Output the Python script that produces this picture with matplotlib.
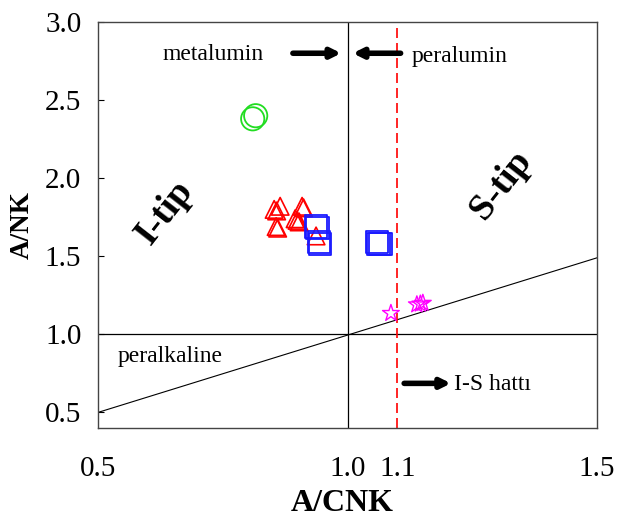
import numpy as np
import matplotlib.pyplot as plt

plt.rcParams['font.family'] = ['Liberation Serif', 'DejaVu Serif']

# A/CNK - A/NK values per group
circ_x = [0.810, 0.816]
circ_y = [2.38, 2.40]

tri_x = [0.853, 0.858, 0.865, 0.909, 0.912, 0.857, 0.860, 0.895, 0.899, 0.903, 0.937]
tri_y = [1.80, 1.79, 1.82, 1.82, 1.81, 1.69, 1.68, 1.74, 1.73, 1.72, 1.63]

sq_x = [0.937, 0.940, 0.943, 0.945, 1.059, 1.062, 1.066]
sq_y = [1.69, 1.68, 1.59, 1.58, 1.59, 1.58, 1.58]

star_x = [1.087, 1.139, 1.146, 1.151]
star_y = [1.135, 1.19, 1.195, 1.20]

# peralkaline boundary
line_x = [0.5, 1.5]
line_y = [0.5, 1.49]

fig = plt.figure(figsize=(6.18, 5.18), dpi=100)
ax = fig.add_axes([0.1586, 0.1737, 0.8074, 0.7838])

ax.plot(line_x, line_y, color='black', lw=0.8)
ax.axhline(1.0, color='black', lw=0.9)
ax.axvline(1.0, color='black', lw=0.9)
ax.axvline(1.1, color='red', lw=1.2, ls=(0, (6, 3)))

ax.scatter(circ_x, circ_y, s=280, marker='o', facecolors='none', edgecolors='#22dd22', linewidths=1.3, zorder=3)
ax.scatter(tri_x, tri_y, s=160, marker='^', facecolors='none', edgecolors='red', linewidths=1.2, zorder=3)
ax.scatter(sq_x, sq_y, s=260, marker='s', facecolors='none', edgecolors='#1a1aff', linewidths=1.3, zorder=3)
ax.scatter(star_x, star_y, s=160, marker='*', facecolors='none', edgecolors='magenta', linewidths=1.0, zorder=3)

ax.set_xlim(0.5, 1.5)
ax.set_ylim(0.4, 3.0)
ax.set_xticks([0.5, 1.0, 1.1, 1.5])
ax.set_xticklabels(['0.5', '1.0', '1.1', '1.5'])
ax.set_yticks([0.5, 1.0, 1.5, 2.0, 2.5, 3.0])
ax.set_yticklabels(['0.5', '1.0', '1.5', '2.0', '2.5', '3.0'])
ax.tick_params(axis='x', length=0, pad=20, labelsize=21)
ax.tick_params(axis='y', direction='in', length=4, pad=12, labelsize=21)
for s in ax.spines.values():
    s.set_color('#444444')
    s.set_linewidth(1.0)

ax.set_xlabel('A/CNK', fontsize=23, fontweight='bold')
ax.set_ylabel('A/NK', fontsize=19.5, fontweight='bold')
ax.xaxis.set_label_coords(0.489, -0.15)
ax.yaxis.set_label_coords(-0.126, 0.5)

ax.text(0.73, 2.79, 'metalumin', fontsize=17, ha='center', va='center')
ax.text(1.129, 2.78, 'peralumin', fontsize=17, ha='left', va='center')
ax.annotate('', xy=(0.993, 2.80), xytext=(0.885, 2.80),
            arrowprops=dict(arrowstyle='-|>', color='black', lw=4, mutation_scale=14))
ax.annotate('', xy=(1.005, 2.80), xytext=(1.112, 2.80),
            arrowprops=dict(arrowstyle='-|>', color='black', lw=4, mutation_scale=14))

ax.text(0.645, 0.86, 'peralkaline', fontsize=17, ha='center', va='center')
ax.annotate('', xy=(1.213, 0.686), xytext=(1.108, 0.686),
            arrowprops=dict(arrowstyle='-|>', color='black', lw=4, mutation_scale=14))
ax.text(1.213, 0.676, 'I-S hattı', fontsize=17, ha='left', va='center')

ax.text(0.634, 1.78, 'I-tip', fontsize=27, fontweight='bold', rotation=52,
        ha='center', va='center')
ax.text(1.308, 1.96, 'S-tip', fontsize=27, fontweight='bold', rotation=52,
        ha='center', va='center')

fig.savefig('out.png', dpi=100)
